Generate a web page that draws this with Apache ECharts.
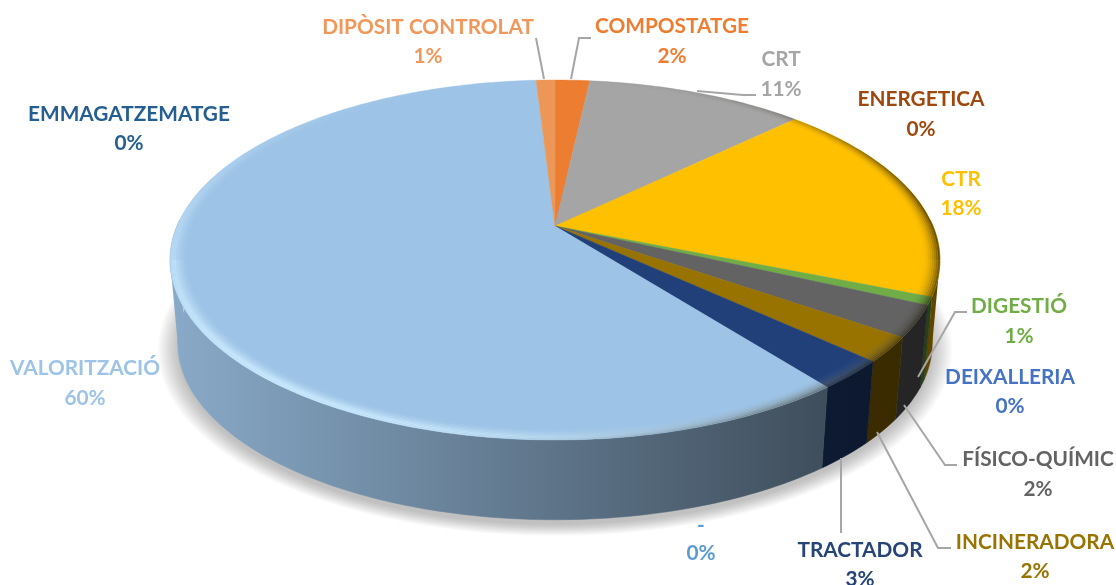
<!DOCTYPE html>
<html><head><meta charset="utf-8">
<style>html,body{margin:0;padding:0;background:#fff}#c{width:1116px;height:585px}</style>
<script src="https://cdn.jsdelivr.net/npm/echarts@6/dist/echarts.min.js"></script>
</head><body><div id="c"></div>
<script>
// Data, clockwise from 12 o'clock
const categories = ['COMPOSTATGE','CRT','ENERGETICA','CTR','DIGESTIÓ','DEIXALLERIA','FÍSICO-QUÍMIC','INCINERADORA','TRACTADOR','-','VALORITZACIÓ','EMMAGATZEMATGE','DIPÒSIT CONTROLAT'];
const shares = [1.75,11,0,18.45,0.7,0,2.8,2.2,2.6,0,59.55,0,0.95];
const percentLabels = ['2%','11%','0%','18%','1%','0%','2%','2%','3%','0%','60%','0%','1%'];
const sliceColors = ['#ED7D31','#A5A5A5','#9E480E','#FFC000','#70AD47','#4472C4','#636363','#997300','#21407A','#5B9BD5','#9DC3E6','#255E91','#EC9757'];
const textColors = ['#ED7D31','#A5A5A5','#9E480E','#FFC000','#70AD47','#4472C4','#636363','#997300','#264478','#5B9BD5','#9DC3E6','#255E91','#F1975A'];
// Label layout: centre x, first line y, second line y
const labelLayout = [[672,26,56],[781,59,89],[921,99,129],[961,179,208],[1019,306,336],[1010,377,406],[1038,459,489],[1035,542,571],[860,550,579],[701,525,553],[85,368,398],[129,114,143],[428,27,56]];
const leaderLayout = [[[591,38],[579,38],[571,79]],[[697,91],[743,95],[756,95]],null,null,[[967,312],[955,312],[918,377]],null,[[904,405],[945,465],[957,465]],[[877,432],[938,548],[951,548]],[[841,458],[841,533]],null,null,null,[[536,38],[544,79]]];

// Perspective disc projection
const cx=555, cy=226, A=173.6, B=378, K=0.189, DEPTH=84, BOTTOM_SCALE=0.98;
const total = shares.reduce((a,b)=>a+b,0);
const starts=[]; { let s=0; shares.forEach(v=>{starts.push(s); s+=v;}); }
const toTheta = p => p/total*360;
function proj(deg,r){ const t=deg*Math.PI/180,u=r*Math.sin(t),v=r*Math.cos(t),w=1+K*v; return [cx+B*u/w, cy-A*v/w]; }
function projBottom(deg){ const p=proj(deg,1); return [cx+(p[0]-cx)*BOTTOM_SCALE, cy+DEPTH+(p[1]-cy)*BOTTOM_SCALE]; }
function arc(fn,a,b,step){ const pts=[],n=Math.max(1,Math.ceil(Math.abs(b-a)/(step||1))); for(let i=0;i<=n;i++) pts.push(fn(a+(b-a)*i/n)); return pts; }
function hex(c){ return [1,3,5].map(i=>parseInt(c.substr(i,2),16)); }
function wallFill(c){ const h=hex(c); const m=f=>'rgb('+h.map(x=>Math.round(x*f)).join(',')+')';
  return {type:'linear',global:true,x:170,y:0,x2:940,y2:0,colorStops:[{offset:0,color:m(0.87)},{offset:0.85,color:m(0.40)},{offset:1,color:m(0.36)}]}; }
const gauss=(x,c,w)=>Math.exp(-((x-c)*(x-c))/(2*w*w));
const SILHOUETTE=[[259,245],[101,112]];

function renderWall(params){
  const i=params.dataIndex; const children=[];
  if(i===0){
    for(let e=20;e>=0;e-=2){
      const s=1+e/380;
      const pts=arc(projBottom,0,360,3).map(p=>[cx+(p[0]-cx)*s, cy+DEPTH+5+(p[1]-cy-DEPTH)*s]);
      children.push({type:'polygon',shape:{points:pts},style:{fill:'rgba(0,0,0,0.022)'}});
    }
  }
  const a0=toTheta(starts[i]),b0=toTheta(starts[i]+shares[i]);
  const a=Math.max(a0,88),b=Math.min(b0,272);
  if(shares[i]>0&&b>a){
    const f=wallFill(sliceColors[i]);
    const pts=arc(d=>proj(d,1),a,b).concat(arc(projBottom,b,a));
    children.push({type:'polygon',shape:{points:pts},style:{fill:f,stroke:f,lineWidth:0.5}});
    SILHOUETTE.forEach(([ext,other])=>{
      if(ext>a&&ext<b){
        const o=Math.min(Math.max(other,a),b);
        children.push({type:'polygon',shape:{points:[proj(ext,1),projBottom(ext),projBottom(o),proj(o,1)]},style:{fill:f}});
      }
    });
  }
  return {type:'group',children};
}
function renderTop(params){
  const i=params.dataIndex; if(!shares[i]) return {type:'group',children:[]};
  const a=toTheta(starts[i]),b=toTheta(starts[i]+shares[i]);
  const pts=[[cx,cy]].concat(arc(d=>proj(d,1),a,b));
  return {type:'polygon',shape:{points:pts},style:{fill:sliceColors[i],stroke:sliceColors[i],lineWidth:0.4}};
}
const lightAt=d=>0.95*gauss(d,215,42)+0.12*gauss(d,285,22);
const darkAt=d=>0.7*gauss(d,85,30)+0.4*gauss(d,140,22);
function rimGradient(d1,d2,rgb,fn,scale){
  const x1=proj(d1,1)[0],x2=proj(d2,1)[0],stops=[],n=Math.max(2,Math.ceil((d2-d1)/3));
  for(let s=0;s<=n;s++){
    const d=d1+(d2-d1)*s/n,x=proj(d,1)[0];
    stops.push({offset:Math.min(1,Math.max(0,(x-x1)/(x2-x1))),color:'rgba('+rgb+','+(fn(d)*scale).toFixed(3)+')'});
  }
  stops.sort((p,q)=>p.offset-q.offset);
  return {type:'linear',global:true,x:x1,y:0,x2:x2,y2:0,colorStops:stops};
}
function renderRim(params){
  const i=params.dataIndex; const children=[]; if(!shares[i]) return {type:'group',children};
  const a=toTheta(starts[i]),b=toTheta(starts[i]+shares[i]);
  const cuts=[a,b].concat([101,259].filter(c=>c>a&&c<b)).sort((p,q)=>p-q);
  const RINGS=9, r0=0.955, dr=(1-r0)/RINGS;
  for(let c=0;c<cuts.length-1;c++){
    const d1=cuts[c],d2=cuts[c+1];
    for(let k=0;k<RINGS;k++){
      const r1=r0+k*dr,r2=r1+dr,mid=(r1+r2-2*r0)/2/(1-r0);
      const prof=mid<0.75?Math.pow(mid/0.75,1.6):1-(mid-0.75)*0.5;
      const ring=arc(d=>proj(d,r2),d1,d2).concat(arc(d=>proj(d,r1),d2,d1));
      children.push({type:'polygon',shape:{points:ring},style:{fill:rimGradient(d1,d2,'205,236,255',lightAt,prof)}});
      children.push({type:'polygon',shape:{points:ring},style:{fill:rimGradient(d1,d2,'30,22,0',darkAt,mid*mid)}});
    }
  }
  return {type:'group',children};
}
function renderLabel(params){
  const i=params.dataIndex,l=labelLayout[i],children=[];
  const font='bold 20.8px Lato, "Open Sans", sans-serif';
  if(leaderLayout[i]) children.push({type:'polyline',shape:{points:leaderLayout[i]},style:{fill:null,stroke:'#A6A6A6',lineWidth:2}});
  children.push({type:'text',style:{x:l[0],y:l[1],text:categories[i],font,fill:textColors[i],align:'center',verticalAlign:'middle'}});
  children.push({type:'text',style:{x:l[0],y:l[2],text:percentLabels[i],font,fill:textColors[i],align:'center',verticalAlign:'middle'}});
  return {type:'group',children};
}
const seriesData=categories.map((name,i)=>({name,value:shares[i]}));
const mk=(fn,z)=>({type:'custom',coordinateSystem:'none',renderItem:fn,data:seriesData,silent:true,animation:false,z,clip:false});
const chart=echarts.init(document.getElementById('c'),null,{renderer:'canvas'});
chart.setOption({backgroundColor:'#fff',animation:false,tooltip:{show:false},
  series:[mk(renderWall,1),mk(renderTop,2),mk(renderRim,3),mk(renderLabel,4)]});
</script></body></html>
